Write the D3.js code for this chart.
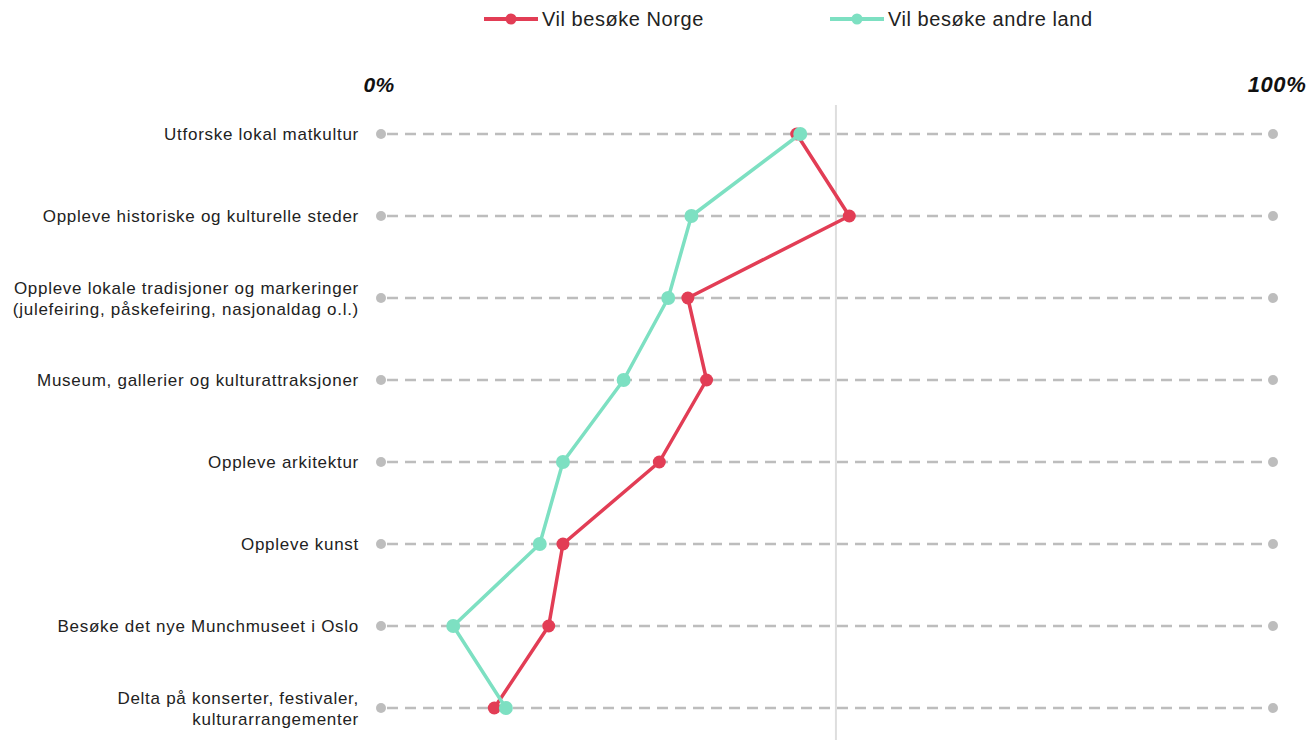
<!DOCTYPE html>
<html><head><meta charset="utf-8">
<script src="https://cdn.jsdelivr.net/npm/d3@7"></script>
<style>body{margin:0;background:#fff;} svg{display:block;font-family:"Liberation Sans",Arial,sans-serif;}</style>
</head><body>
<svg id="chart" width="1309" height="740"></svg>
<script>
const categories = [
  ["Utforske lokal matkultur"],
  ["Oppleve historiske og kulturelle steder"],
  ["Oppleve lokale tradisjoner og markeringer", "(julefeiring, påskefeiring, nasjonaldag o.l.)"],
  ["Museum, gallerier og kulturattraksjoner"],
  ["Oppleve arkitektur"],
  ["Oppleve kunst"],
  ["Besøke det nye Munchmuseet i Oslo"],
  ["Delta på konserter, festivaler,", "kulturarrangementer"]
];
const norge = [46.6, 52.5, 34.4, 36.5, 31.2, 20.4, 18.8, 12.7];
const andre = [47.0, 34.8, 32.2, 27.2, 20.4, 17.8, 8.1, 14.0];
const seriesNames = ["Vil besøke Norge", "Vil besøke andre land"];
const colors = ["#e23d55", "#7de0c2"];
const axisLabels = ["0%", "100%"];
const refLine = 51;

const svg = d3.select("#chart");
const x = d3.scaleLinear().domain([0, 100]).range([381, 1273]);
const y = d3.scalePoint().domain(d3.range(categories.length)).range([134, 708]);

// reference vertical line
svg.append("line").attr("x1", x(refLine)).attr("x2", x(refLine))
  .attr("y1", 105).attr("y2", 740).attr("stroke", "#dedede").attr("stroke-width", 2);

// dashed row lines
const rows = svg.append("g");
categories.forEach((c, i) => {
  rows.append("line").attr("x1", x(0)).attr("x2", x(100)).attr("y1", y(i)).attr("y2", y(i))
    .attr("stroke", "#bdbdbd").attr("stroke-width", 2.5).attr("stroke-dasharray", "11,7").attr("stroke-dashoffset", -6);
  [0, 100].forEach(v => rows.append("circle").attr("cx", x(v)).attr("cy", y(i)).attr("r", 5).attr("fill", "#bdbdbd"));
  const t = rows.append("text").attr("text-anchor", "end").attr("font-size", 17)
    .attr("letter-spacing", 0.72).attr("fill", "#222");
  const n = c.length;
  c.forEach((line, k) => {
    t.append("tspan").attr("x", 359).attr("y", y(i) + 6 + (k - (n - 1) / 2) * 21).text(line);
  });
});

// axis labels
axisLabels.forEach((l, i) => {
  svg.append("text").attr("x", x(i * 100) + (i ? 4 : -2)).attr("y", 92).attr("text-anchor", "middle")
    .attr("font-size", i ? 22 : 21).attr("letter-spacing", i ? 0.6 : 0.3)
    .attr("font-weight", "bold").attr("font-style", "italic").attr("fill", "#111").text(l);
});

// series
[norge, andre].forEach((data, si) => {
  const line = d3.line().x(d => x(d)).y((d, i) => y(i));
  svg.append("path").datum(data).attr("d", line).attr("fill", "none")
    .attr("stroke", colors[si]).attr("stroke-width", 3.5).attr("stroke-linejoin", "round");
  svg.append("g").selectAll("circle").data(data).join("circle")
    .attr("cx", d => x(d)).attr("cy", (d, i) => y(i)).attr("r", si ? 7 : 6.5).attr("fill", colors[si]);
});

// legend
const legendX = [484, 830];
seriesNames.forEach((s, i) => {
  const g = svg.append("g").attr("transform", `translate(${legendX[i]},19)`);
  g.append("line").attr("x1", 0).attr("x2", 54).attr("stroke", colors[i]).attr("stroke-width", 4);
  g.append("circle").attr("cx", 27).attr("r", 5.5).attr("fill", colors[i]);
  g.append("text").attr("x", 58).attr("y", 7).attr("font-size", 20).attr("letter-spacing", 0.55)
    .attr("fill", "#222").text(s);
});
</script>
</body></html>
